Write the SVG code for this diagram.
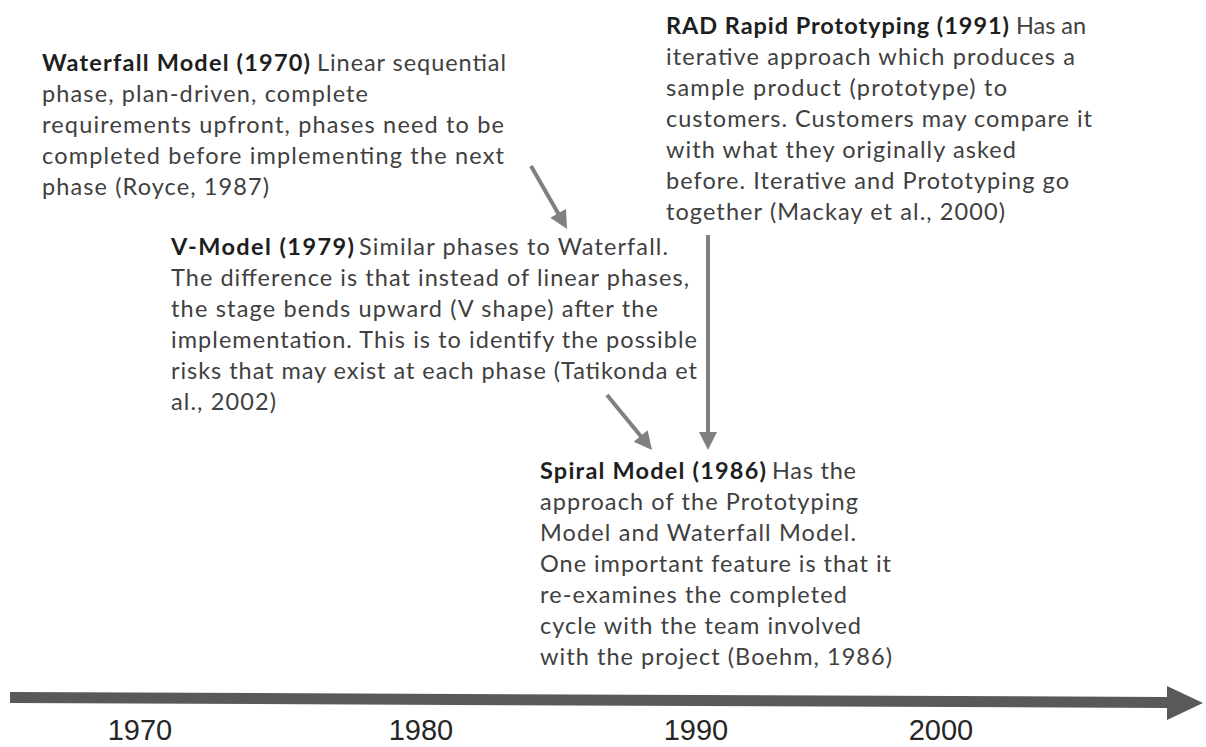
<svg xmlns="http://www.w3.org/2000/svg" width="1206" height="747" viewBox="0 0 1206 747">
<style>
text{font-family:Lato,"Open Sans","Liberation Sans",sans-serif;font-size:23.5px;fill:#404040;}
.b{font-weight:bold;fill:#1e1e1e;}
.yr{font-family:"Liberation Sans",Arial,sans-serif;font-size:29px;fill:#262626;text-anchor:middle;}
.conn{stroke:#808080;stroke-width:4;fill:none;marker-end:url(#ah);}
</style>
<defs>
<marker id="ah" markerUnits="strokeWidth" markerWidth="5" markerHeight="5" refX="0" refY="2.25" orient="auto" overflow="visible">
<path d="M-0.5,0 L4,2.25 L-0.5,4.5 z" fill="#808080"/>
</marker>
</defs>
<rect width="1206" height="747" fill="#ffffff"/>

<g id="connectors">
<line class="conn" x1="531" y1="166" x2="559.1" y2="215.1"/>
<line class="conn" x1="607" y1="395" x2="641.9" y2="437.6"/>
<line class="conn" x1="708" y1="235" x2="708" y2="434"/>
</g>

<g id="timeline">
<path d="M10,692 L1167,697 L1167,708 L10,703 z" fill="#595959"/>
<path d="M1167,686 L1203,703 L1167,720 z" fill="#595959"/>
<text class="yr" x="140" y="740">1970</text>
<text class="yr" x="421" y="740">1980</text>
<text class="yr" x="696" y="740">1990</text>
<text class="yr" x="941" y="740">2000</text>
</g>

<g id="waterfall">
<text class="b" x="42" y="71" textLength="268">Waterfall Model (1970)</text>
<text x="317" y="71" textLength="189">Linear sequential</text>
<text x="42" y="102" textLength="326">phase, plan-driven, complete</text>
<text x="42" y="133" textLength="462">requirements upfront, phases need to be</text>
<text x="42" y="164" textLength="462">completed before implementing the next</text>
<text x="42" y="195" textLength="227">phase (Royce, 1987)</text>
</g>

<g id="rad">
<text class="b" x="666" y="34" textLength="343">RAD Rapid Prototyping (1991)</text>
<text x="1016" y="34" textLength="70">Has an</text>
<text x="666" y="65" textLength="409">iterative approach which produces a</text>
<text x="666" y="96" textLength="341">sample product (prototype) to</text>
<text x="666" y="127" textLength="426">customers. Customers may compare it</text>
<text x="666" y="158" textLength="350">with what they originally asked</text>
<text x="666" y="189" textLength="403">before. Iterative and Prototyping go</text>
<text x="666" y="220" textLength="339">together (Mackay et al., 2000)</text>
</g>

<g id="vmodel">
<text class="b" x="171" y="255" textLength="183">V-Model (1979)</text>
<text x="359" y="255" textLength="309">Similar phases to Waterfall.</text>
<text x="171" y="286" textLength="518">The difference is that instead of linear phases,</text>
<text x="171" y="317" textLength="487">the stage bends upward (V shape) after the</text>
<text x="171" y="348" textLength="526">implementation. This is to identify the possible</text>
<text x="171" y="379" textLength="526">risks that may exist at each phase (Tatikonda et</text>
<text x="171" y="410" textLength="105">al., 2002)</text>
</g>

<g id="spiral">
<text class="b" x="540" y="479" textLength="226">Spiral Model (1986)</text>
<text x="772" y="479" textLength="84">Has the</text>
<text x="540" y="510" textLength="318">approach of the Prototyping</text>
<text x="540" y="541" textLength="316">Model and Waterfall Model.</text>
<text x="540" y="572" textLength="351">One important feature is that it</text>
<text x="540" y="603" textLength="307">re-examines the completed</text>
<text x="540" y="634" textLength="321">cycle with the team involved</text>
<text x="540" y="665" textLength="352">with the project (Boehm, 1986)</text>
</g>
</svg>
